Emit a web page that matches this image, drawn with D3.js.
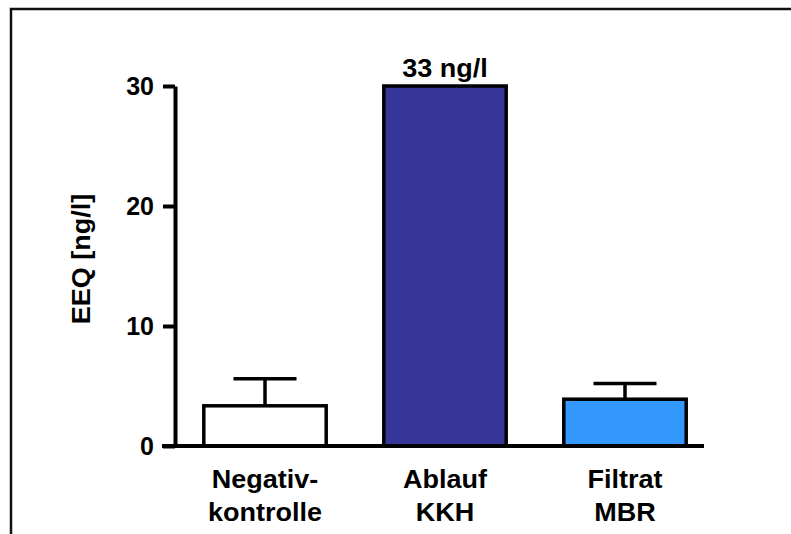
<!DOCTYPE html>
<html>
<head>
<meta charset="utf-8">
<script src="https://cdn.jsdelivr.net/npm/d3@7"></script>
<style>
  html, body { margin: 0; padding: 0; background: #fff; }
  svg { display: block; }
  text { font-family: "Liberation Sans", Arial, Helvetica, sans-serif; font-weight: bold; fill: #000; }
</style>
</head>
<body>
<svg id="chart" width="791" height="534"></svg>
<script>
// Sample groups (two-line labels) and measured estrogen equivalents
const categories = ["Negativ-\nkontrolle", "Ablauf\nKKH", "Filtrat\nMBR"];
const means = [3.35, 33, 3.9];
const errors = [2.25, 0, 1.3];
const fills = ["#ffffff", "#363699", "#3399ff"];
const yTicks = [0, 10, 20, 30];
const valueLabels = ["", "33 ng/l", ""];
const yTitle = "EEQ [ng/l]";

const svg = d3.select("#chart");

// outer frame
svg.append("rect")
  .attr("x", 11).attr("y", 9)
  .attr("width", 800).attr("height", 540)
  .attr("fill", "none").attr("stroke", "#111").attr("stroke-width", 2.5);

const x = d3.scaleBand()
  .domain(categories)
  .range([175, 715])
  .paddingInner(0.32)
  .paddingOuter(0.16);

const y = d3.scaleLinear()
  .domain([0, 30])
  .range([446, 86])
  .clamp(true);

// bars
svg.append("g").selectAll("rect")
  .data(categories)
  .join("rect")
  .attr("x", d => x(d))
  .attr("width", x.bandwidth())
  .attr("y", (d, i) => y(means[i]))
  .attr("height", (d, i) => y(0) - y(means[i]))
  .attr("fill", (d, i) => fills[i])
  .attr("stroke", "#000")
  .attr("stroke-width", 3.5);

// error bars (upper whisker only)
const eb = svg.append("g").attr("stroke", "#000").attr("stroke-width", 3.5).attr("fill", "none");
categories.forEach((c, i) => {
  if (!errors[i]) return;
  const cx = x(c) + x.bandwidth() / 2;
  eb.append("line")
    .attr("x1", cx).attr("x2", cx)
    .attr("y1", y(means[i])).attr("y2", y(means[i] + errors[i]));
  eb.append("line")
    .attr("x1", cx - 31.5).attr("x2", cx + 31.5)
    .attr("y1", y(means[i] + errors[i])).attr("y2", y(means[i] + errors[i]));
});

// value annotation above bars
svg.append("g").selectAll("text")
  .data(categories)
  .join("text")
  .attr("transform", (d, i) => `translate(${x(d) + x.bandwidth() / 2},${y(means[i]) - 9}) scale(1.08,1)`)
  .attr("text-anchor", "middle")
  .style("font-size", "25px")
  .text((d, i) => valueLabels[i]);

// y axis
const yAxis = svg.append("g")
  .attr("transform", "translate(175,0)")
  .call(d3.axisLeft(y).tickValues(yTicks).tickSize(12).tickSizeOuter(0).tickPadding(9));
yAxis.select(".domain").attr("stroke", "#000").attr("stroke-width", 4);
yAxis.selectAll(".tick line").attr("stroke", "#000").attr("stroke-width", 4);
yAxis.selectAll(".tick text")
  .style("font-size", "25px")
  .style("font-family", "'Liberation Sans', Arial, sans-serif")
  .style("font-weight", "bold")
  .attr("fill", "#000");

// x baseline
svg.append("line")
  .attr("x1", 162).attr("x2", 704)
  .attr("y1", y(0)).attr("y2", y(0))
  .attr("stroke", "#000").attr("stroke-width", 4);

// category labels
svg.append("g").selectAll("text")
  .data(categories)
  .join("text")
  .attr("text-anchor", "middle")
  .attr("transform", d => `translate(${x(d) + x.bandwidth() / 2},488) scale(1.08,1)`)
  .style("font-size", "25px")
  .each(function (d) {
    d.split("\n").forEach((line, k) => {
      d3.select(this).append("tspan")
        .attr("x", 0).attr("y", k * 33)
        .text(line);
    });
  });

// y axis title
svg.append("text")
  .attr("transform", "translate(90,259) rotate(-90) scale(1.08,1)")
  .attr("text-anchor", "middle")
  .style("font-size", "25px")
  .text(yTitle);
</script>
</body>
</html>
